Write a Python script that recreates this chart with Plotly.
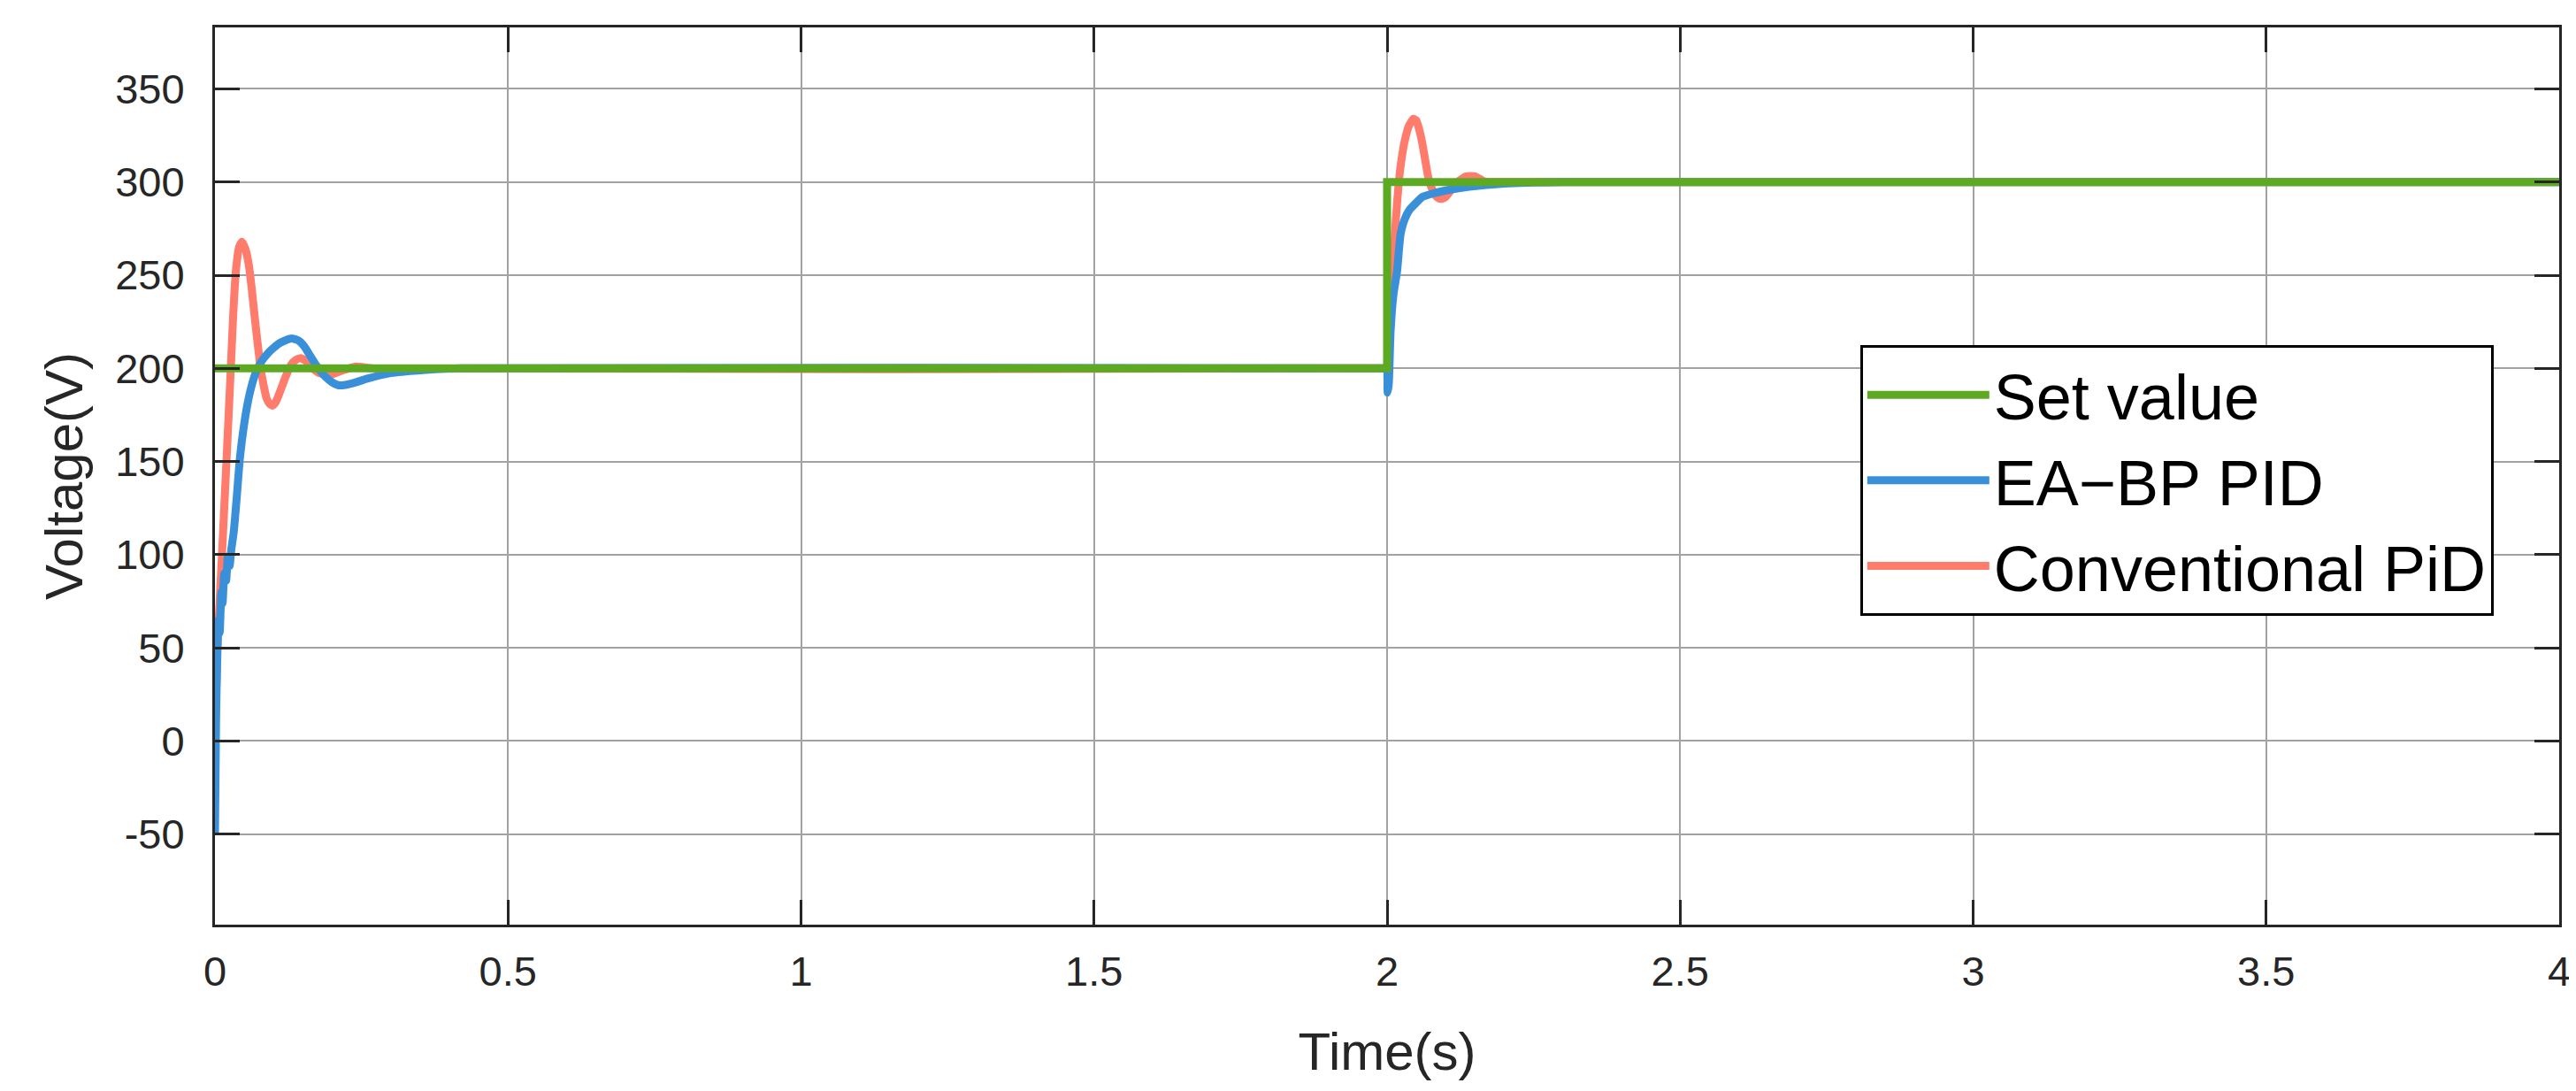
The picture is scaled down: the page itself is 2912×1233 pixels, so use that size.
import plotly.graph_objects as go

# ---- data ----
set_t = [0, 2, 2, 4]
set_v = [200, 200, 300, 300]

ea_t = [0.0, 0.002, 0.004, 0.006, 0.008, 0.011, 0.013, 0.016, 0.019, 0.022, 0.025, 0.028,
        0.032, 0.037, 0.042, 0.048, 0.055, 0.062, 0.07, 0.08, 0.09, 0.1, 0.11, 0.12, 0.131,
        0.142, 0.152, 0.162, 0.172, 0.18, 0.19, 0.2, 0.21, 0.22, 0.235, 0.26, 0.3, 0.35, 0.42,
        1.999, 2.0, 2.001, 2.003, 2.006, 2.011, 2.017, 2.023, 2.03, 2.038, 2.05, 2.06, 2.08, 2.1,
        2.14, 2.2, 2.3, 4.0]
ea_v = [-50, 15, 45, 65, 58, 80, 74, 90, 86, 99, 94, 103,
        112, 130, 150, 166, 180, 190, 198, 204, 208, 211, 213.5, 215, 216,
        215, 212, 207, 202, 198.5, 195, 192.5, 191, 191, 192, 194.5, 197.5, 199, 200,
        200, 200, 187, 192, 220, 240, 252, 272, 280, 285, 289, 292, 294, 295.5,
        297.5, 299.2, 300, 300]

cv_t = [0.0, 0.004, 0.008, 0.012, 0.0196, 0.027, 0.031, 0.035, 0.038, 0.041, 0.046, 0.052,
        0.058, 0.063, 0.068, 0.073, 0.078, 0.083, 0.088, 0.093, 0.098, 0.103, 0.108, 0.114,
        0.12, 0.13, 0.138, 0.146, 0.155, 0.163, 0.178, 0.195, 0.214, 0.24,
        0.27, 1.999, 2.0, 2.005, 2.009, 2.015, 2.02, 2.025, 2.03, 2.037, 2.045, 2.05, 2.055, 2.06,
        2.065, 2.072, 2.082, 2.088, 2.094, 2.1, 2.105, 2.12, 2.135, 2.15, 2.165, 2.18, 4.0]
cv_v = [0, 50, 75, 100, 150, 200, 228, 250, 259, 265, 268, 264,
        255, 242, 227, 213, 200, 191, 184, 181, 180, 181.5, 185, 190,
        195, 202, 204.5, 205.5, 204, 201, 197.5, 196.5, 198.5, 201,
        200, 200, 200, 225, 250, 280, 300, 313, 322, 330, 334, 333, 328, 321,
        312, 300, 293, 291.2, 291, 292, 294, 300, 303, 303, 300.5, 300, 300]

x_ticks = [0, 0.5, 1, 1.5, 2, 2.5, 3, 3.5, 4]
x_labels = ["0", "0.5", "1", "1.5", "2", "2.5", "3", "3.5", "4"]
y_ticks = [-50, 0, 50, 100, 150, 200, 250, 300, 350]
y_labels = ["-50", "0", "50", "100", "150", "200", "250", "300", "350"]

GREEN = "#5DAA22"
BLUE = "#3A90D8"
RED = "#FF7B6B"
FONT = "Liberation Sans, Arial, sans-serif"

fig = go.Figure()
fig.add_trace(go.Scatter(x=cv_t, y=cv_v, mode="lines", name="Conventional PiD",
                         line=dict(color=RED, width=9, shape="spline", smoothing=0.5),
                         legendrank=3))
fig.add_trace(go.Scatter(x=ea_t, y=ea_v, mode="lines", name="EA\u2212BP PID",
                         line=dict(color=BLUE, width=9, shape="spline", smoothing=0.5),
                         legendrank=2))
fig.add_trace(go.Scatter(x=set_t, y=set_v, mode="lines", name="Set value",
                         line=dict(color=GREEN, width=9), legendrank=1))

axis_common = dict(
    showline=True, linecolor="#262626", linewidth=3, mirror="allticks",
    ticks="inside", ticklen=28, tickwidth=3, tickcolor="#262626",
    showgrid=True, gridcolor="#a2a2a2", gridwidth=2, zeroline=False,
    tickfont=dict(family=FONT, size=47, color="#262626"),
)

fig.update_xaxes(range=[0, 4], tickvals=x_ticks, ticktext=x_labels,
                 ticklabelstandoff=10,
                 title=dict(text="Time(s)", font=dict(family=FONT, size=60, color="#262626"),
                            standoff=44),
                 **axis_common)
fig.update_yaxes(range=[-98.6, 383], tickvals=y_ticks, ticktext=y_labels,
                 ticklabelstandoff=22,
                 title=dict(text="Voltage(V)", font=dict(family=FONT, size=60, color="#262626"),
                            standoff=18),
                 **axis_common)

fig.update_layout(
    width=2912, height=1233,
    margin=dict(l=235, r=27, t=23, b=196, autoexpand=False),
    paper_bgcolor="white", plot_bgcolor="white",
    showlegend=True,
    legend=dict(x=0.972, xanchor="right", y=0.646, yanchor="top",
                bgcolor="white", bordercolor="#000000", borderwidth=3,
                font=dict(family=FONT, size=72, color="#000000"),
                itemwidth=138, tracegroupgap=0),
)

fig.write_html("out.html")
